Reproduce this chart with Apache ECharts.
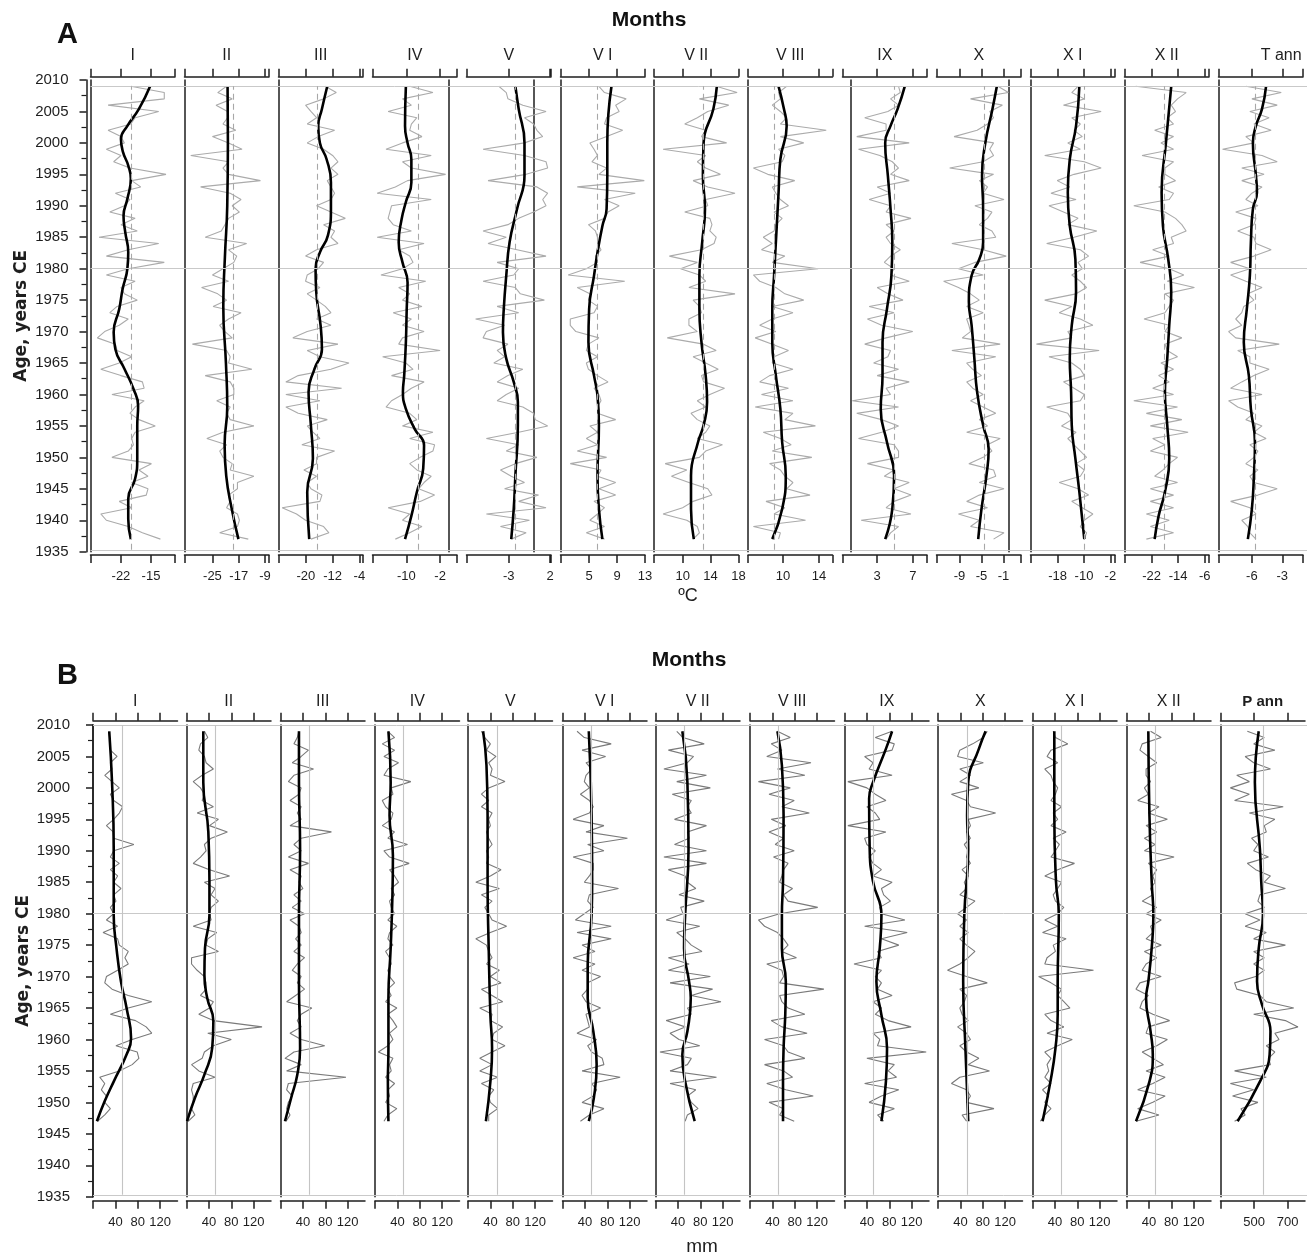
<!DOCTYPE html>
<html>
<head>
<meta charset="utf-8">
<script src="https://cdn.jsdelivr.net/npm/echarts@6/dist/echarts.min.js"></script>
<style>
  html, body { margin: 0; padding: 0; background: #fff; }
  #chart { width: 1307px; height: 1256px; }
</style>
</head>
<body>
<div id="chart"></div>
<script>
// ---- labels ----
const tempLabels = ['I', 'II', 'III', 'IV', 'V', 'V I', 'V II', 'V III', 'IX', 'X', 'X I', 'X II', 'T ann'];
const precLabels = ['I', 'II', 'III', 'IV', 'V', 'V I', 'V II', 'V III', 'IX', 'X', 'X I', 'X II', 'P ann'];

// ---- panel A: temperature (ºC), axis extents, labelled ticks, mean ----
const tRange = [[-29.1, -9.4], [-33.5, -7.8], [-28.2, -2.9], [-18, 2], [-8.1, 2.1], [0.9, 13], [5.9, 18],
  [6.1, 15.5], [-0.9, 8.6], [-13.2, 2.2], [-26.2, -0.6], [-30.2, -4.7], [-9.3, -0.95]];
const tTicks = [[-22, -15], [-25, -17, -9], [-20, -12, -4], [-10, -2], [-3, 2], [5, 9, 13], [10, 14, 18],
  [10, 14], [3, 7], [-9, -5, -1], [-18, -10, -2], [-22, -14, -6], [-6, -3]];
const tMean = [-19.6, -18.7, -16.6, -7.1, -2.2, 6.2, 12.9, 9.0, 4.9, -4.5, -9.9, -18.2, -5.7];

// annual values, 2009 down to 1937
const tI = [
  -19.7, -11.9, -11.9, -25.0, -13.2, -18.7, -19.7, -25.0, -22.0, -21.2,
  -25.4, -22.0, -23.7, -19.9, -11.5, -19.5, -17.4, -23.3, -19.9, -21.2,
  -24.6, -18.7, -22.0, -18.2, -27.1, -13.2, -20.3, -25.4, -11.9, -20.3,
  -25.4, -18.7, -22.0, -21.2, -18.2, -22.9, -24.6, -20.3, -22.4, -25.8,
  -27.5, -23.3, -22.9, -19.5, -22.4, -26.7, -22.0, -17.0, -16.6, -24.1,
  -16.6, -18.7, -19.9, -17.8, -14.0, -18.7, -19.5, -19.1, -20.3, -24.1,
  -14.9, -17.8, -15.7, -19.5, -15.7, -16.1, -22.4, -19.5, -26.7, -25.4,
  -20.3, -17.0, -12.8];
const tII = [
  -20.7, -23.4, -19.0, -23.9, -20.4, -20.4, -21.8, -17.9, -25.0, -20.1,
  -16.0, -31.6, -20.1, -21.8, -20.1, -10.4, -28.6, -19.6, -16.3, -19.0,
  -16.8, -20.1, -21.2, -22.3, -27.2, -14.6, -20.1, -17.6, -18.5, -21.8,
  -25.0, -20.1, -28.3, -23.4, -20.7, -24.8, -16.3, -20.1, -22.8, -21.2,
  -19.0, -31.1, -20.7, -19.6, -20.1, -13.0, -27.2, -19.6, -18.5, -18.5,
  -23.7, -19.6, -20.7, -19.6, -12.4, -21.8, -26.7, -20.7, -22.8, -21.8,
  -19.0, -19.6, -12.4, -17.4, -17.4, -20.1, -19.6, -20.7, -17.4, -16.8,
  -17.4, -22.8, -14.1];
const tIII = [
  -14.2, -10.9, -14.7, -20.1, -18.5, -16.8, -19.6, -11.4, -16.3, -19.6,
  -14.7, -12.0, -10.4, -12.5, -10.4, -13.6, -12.5, -11.4, -12.5, -16.8,
  -12.5, -8.2, -14.7, -11.4, -12.5, -10.4, -16.8, -20.1, -14.7, -16.3,
  -19.6, -20.1, -15.8, -19.6, -16.8, -14.2, -12.5, -16.8, -12.5, -19.6,
  -23.9, -10.4, -19.6, -15.8, -7.1, -12.5, -22.3, -26.0, -9.3, -26.0,
  -15.8, -26.0, -22.3, -13.6, -19.6, -17.9, -15.8, -21.2, -11.4, -16.8,
  -16.8, -20.6, -16.8, -19.6, -18.5, -15.2, -15.8, -27.1, -22.8, -20.1,
  -14.7, -13.1, -18.5];
const tIV = [
  -9.2, -3.7, -10.9, -8.8, -14.3, -7.5, -8.8, -9.2, -6.3, -10.9,
  -14.8, -4.1, -10.9, -8.8, -0.7, -9.7, -12.6, -16.9, -4.1, -13.5,
  -13.9, -14.3, -13.1, -8.8, -16.9, -5.8, -11.8, -9.2, -8.4, -10.9,
  -16.0, -5.4, -11.8, -9.2, -10.9, -6.3, -13.1, -8.8, -10.9, -5.8,
  -10.9, -11.8, -2.0, -15.6, -10.1, -8.4, -13.5, -5.8, -8.8, -10.9,
  -13.5, -14.8, -9.2, -7.5, -10.9, -3.7, -9.2, -3.3, -3.7, -6.7,
  -9.2, -7.5, -4.1, -5.8, -7.1, -3.3, -6.7, -14.3, -9.2, -10.9,
  -6.3, -9.2, -12.6];
const tV = [
  -4.2, -3.3, -3.1, -1.3, 1.5, -1.1, 0.0, 0.4, 1.1, -1.1,
  -6.1, -1.1, 1.5, 1.7, -0.9, -5.5, 0.4, 1.7, 1.1, 1.5,
  0.0, -1.8, -3.1, -6.1, -3.3, -5.5, -2.0, 1.5, -4.4, -1.8,
  -2.4, -6.1, -2.2, -1.6, 1.3, -4.4, -1.8, -7.0, -3.5, -5.7,
  -6.1, -3.1, -4.4, -3.5, -4.8, -1.3, -3.1, -4.4, -1.8, -3.3,
  -4.4, -1.3, 0.0, 0.2, 1.7, -1.8, -5.7, -1.8, -3.3, 0.4,
  -2.2, -4.0, -2.7, -1.1, -3.5, 0.6, -1.8, 1.5, -5.7, -0.5,
  -4.0, -0.9, -2.7];
const tVI = [
  6.4, 7.2, 10.3, 8.8, 9.3, 7.5, 7.2, 9.8, 7.5, 5.1,
  5.7, 6.2, 5.4, 7.5, 6.4, 12.9, 3.3, 11.6, 7.2, 9.3,
  7.7, 7.2, 4.9, 5.9, 6.2, 6.2, 6.7, 5.9, 6.2, 4.6,
  2.0, 10.1, 3.3, 5.1, 4.9, 6.2, 5.7, 2.3, 2.3, 3.1,
  6.4, 4.9, 4.6, 6.2, 4.6, 4.9, 6.2, 7.7, 5.7, 6.4,
  6.7, 6.2, 6.2, 8.8, 5.1, 6.2, 4.6, 6.2, 3.3, 7.5,
  2.3, 6.7, 6.2, 8.8, 6.4, 8.8, 5.7, 7.2, 6.2, 5.1,
  7.2, 4.6, 7.2];
const tVII = [
  14.8, 17.8, 12.4, 16.6, 13.6, 12.1, 10.3, 13.3, 12.7, 16.3,
  7.2, 13.3, 12.1, 13.3, 15.4, 11.5, 13.6, 17.5, 13.3, 13.6,
  10.3, 13.9, 14.2, 13.9, 14.8, 14.5, 12.7, 8.1, 12.1, 9.7,
  12.4, 13.3, 10.9, 17.5, 11.5, 12.4, 12.7, 10.9, 10.9, 12.1,
  7.8, 13.0, 14.8, 11.5, 13.3, 15.1, 12.7, 13.0, 16.0, 13.9,
  12.1, 13.3, 11.2, 12.1, 13.9, 13.3, 12.1, 15.7, 13.3, 12.4,
  7.5, 10.6, 8.4, 10.9, 13.6, 14.2, 11.5, 10.0, 7.2, 10.6,
  12.1, 12.4, 11.5];
const tVIII = [
  10.4, 9.5, 9.7, 8.8, 9.7, 10.4, 9.7, 14.8, 9.7, 12.3,
  9.5, 10.2, 9.9, 6.7, 8.3, 11.3, 8.8, 9.2, 9.7, 10.6,
  9.0, 9.9, 9.2, 9.0, 7.8, 8.8, 7.6, 10.2, 8.8, 13.9,
  6.7, 7.4, 9.2, 10.2, 12.3, 8.8, 11.1, 8.8, 7.4, 9.2,
  6.9, 8.8, 10.6, 9.0, 8.8, 11.1, 8.5, 7.4, 10.6, 7.6,
  11.1, 6.9, 11.1, 10.2, 13.6, 7.8, 9.7, 10.9, 8.8, 13.2,
  8.5, 9.7, 10.2, 11.1, 10.4, 13.0, 8.1, 10.2, 9.0, 12.5,
  6.7, 9.7, 9.5];
const tIX = [
  5.4, 5.6, 4.5, 5.4, 4.2, 1.6, 4.0, 4.0, 0.7, 6.6,
  0.9, 3.3, 4.7, 5.4, 4.5, 6.6, 3.0, 4.5, 2.1, 4.5,
  4.0, 6.8, 4.0, 4.9, 4.0, 4.5, 5.6, 4.5, 3.8, 4.9,
  4.5, 6.6, 3.0, 4.2, 5.9, 2.1, 4.9, 1.9, 3.5, 7.0,
  4.0, 1.6, 4.5, 4.2, 2.6, 5.4, 3.0, 6.6, 4.0, 4.5,
  0.2, 5.4, 0.7, 3.5, 5.4, 3.5, 0.9, 4.9, 5.4, 5.4,
  1.9, 4.9, 3.8, 6.6, 4.9, 6.8, 4.9, 4.0, 6.8, 1.2,
  5.4, 4.5, 4.0];
const tX = [
  -2.0, -0.1, -7.0, -1.2, -3.5, -2.8, -3.9, -5.8, -10.0, -2.8,
  -3.5, -2.8, -4.7, -10.8, -2.8, -5.4, -3.9, -4.7, -0.9, -6.2,
  -3.1, -3.9, -5.4, -3.1, -2.4, -10.4, -4.7, -0.5, -6.2, -9.2,
  -4.7, -11.9, -9.2, -7.0, -5.4, -7.7, -4.7, -7.7, -7.3, -7.0,
  -8.5, -1.6, -10.4, -2.4, -7.7, -6.6, -5.0, -7.7, -6.6, -4.7,
  -7.0, -4.7, -2.4, -5.4, -3.9, -7.7, -1.6, -3.9, -3.1, -4.7,
  -7.3, -2.8, -2.4, -5.4, -0.9, -5.4, -7.7, -3.9, -9.2, -5.4,
  -7.0, -0.9, -2.8];
const tXI = [
  -11.8, -13.7, -9.9, -16.2, -4.8, -13.7, -11.1, -13.0, -10.5, -14.9,
  -11.1, -21.9, -9.9, -4.8, -13.0, -18.1, -14.3, -20.0, -12.4, -20.6,
  -16.2, -11.8, -14.9, -6.1, -13.0, -21.3, -11.1, -8.6, -11.8, -10.5,
  -13.7, -11.1, -9.2, -12.4, -21.9, -13.7, -17.5, -11.1, -7.3, -14.9,
  -13.7, -24.4, -5.4, -20.6, -13.7, -11.1, -9.9, -16.2, -13.0, -9.9,
  -11.1, -21.3, -14.9, -13.7, -16.8, -12.4, -14.9, -13.0, -11.1, -9.2,
  -12.4, -9.9, -11.1, -17.5, -11.8, -8.6, -13.7, -10.5, -7.3, -9.9,
  -11.1, -9.2, -9.9];
const tXII = [
  -26.8, -11.6, -14.2, -16.1, -14.8, -17.3, -15.4, -21.1, -15.4, -19.2,
  -15.4, -24.9, -15.4, -18.0, -18.0, -14.8, -19.9, -15.4, -16.7, -27.4,
  -18.0, -14.8, -12.9, -11.6, -16.1, -15.4, -21.7, -16.7, -25.5, -16.7,
  -12.3, -17.3, -9.1, -18.0, -15.4, -16.7, -18.0, -24.3, -16.7, -18.0,
  -12.9, -18.0, -17.3, -14.2, -19.2, -15.4, -19.9, -16.7, -21.7, -15.4,
  -27.4, -14.2, -23.6, -12.9, -22.4, -11.0, -21.7, -18.0, -22.4, -14.2,
  -16.7, -18.6, -21.1, -14.2, -22.4, -15.4, -22.4, -15.4, -23.6, -16.7,
  -22.4, -15.4, -23.6];
const tAnn = [
  -6.6, -3.1, -6.0, -3.5, -6.2, -4.3, -5.8, -4.1, -6.6, -5.8,
  -8.9, -5.0, -3.5, -7.0, -4.8, -7.0, -5.0, -6.0, -6.6, -5.4,
  -7.6, -5.6, -5.8, -7.4, -5.8, -5.6, -4.1, -5.8, -8.1, -6.2,
  -8.1, -6.6, -5.0, -6.4, -5.8, -6.8, -7.0, -7.6, -7.0, -8.3,
  -7.6, -3.3, -7.4, -6.2, -6.2, -4.3, -5.8, -7.0, -8.1, -5.0,
  -8.3, -7.4, -5.8, -6.6, -5.0, -5.8, -4.6, -6.2, -5.4, -5.8,
  -6.6, -5.4, -6.2, -5.8, -3.5, -5.4, -8.1, -6.2, -5.6, -7.0,
  -6.4, -6.2, -5.6];

// smoothed curves, [year, value]
const tSmI = [[2009, -15.2], [2005.4, -17.8], [2002.7, -20.5], [2000.6, -22.0], [1998.5, -21.5], [1996.4, -20.3],
  [1994.3, -19.7], [1991.1, -20.5], [1988.4, -21.4], [1985.8, -21.0], [1982.6, -20.3], [1980, -20.5], [1976.8, -21.6],
  [1973.6, -22.4], [1969.9, -23.7], [1967.2, -23.3], [1964.1, -21.2], [1960.9, -19.1], [1958.2, -18.0], [1955, -18.2],
  [1949.8, -18.2], [1946.6, -18.7], [1943.4, -20.3], [1940.2, -20.3], [1937, -19.7]];
const tSmII = [[2009, -20.4], [2000, -20.3], [1990, -20.5], [1982, -21.2], [1974, -21.7], [1965, -20.9], [1958, -20.5],
  [1952, -21.3], [1947, -20.8], [1942, -19.2], [1937, -17.1]];
const tSmIII = [[2009, -13.6], [2005.4, -15.2], [2002.7, -16.3], [2000, -15.8], [1997.4, -13.8], [1993.7, -12.5],
  [1989.5, -12.5], [1985.3, -13.4], [1982.6, -15.8], [1980, -17.1], [1976.3, -16.9], [1971, -15.6], [1967.2, -15.2],
  [1964.1, -17.4], [1960.4, -19.2], [1955.1, -18.5], [1949.8, -17.9], [1944.5, -19.6], [1937, -19.0]];
const tSmIV = [[2009, -10.1], [2002.7, -10.3], [2000, -9.7], [1997.4, -8.8], [1993.7, -8.8], [1990.6, -10.1],
  [1987.9, -11.1], [1984.2, -11.8], [1981, -10.9], [1977.8, -9.7], [1973.6, -9.9], [1968.3, -10.1], [1963, -10.5],
  [1960.4, -10.8], [1957.7, -10.1], [1954.5, -8.0], [1951.9, -5.8], [1948.2, -6.0], [1944.5, -7.5], [1940.7, -8.8],
  [1937, -10.3]];
const tSmV = [[2009, -2.2], [2005.4, -1.8], [2000, -1.1], [1994.8, -1.1], [1989.5, -2.0], [1984.2, -2.9],
  [1978.9, -3.3], [1973.6, -3.6], [1969.9, -3.7], [1965.7, -3.3], [1962, -2.4], [1958.8, -1.9], [1955.1, -1.9],
  [1947.1, -2.2], [1941.8, -2.4], [1937, -2.7]];
const tSmVI = [[2009, 8.2], [2000, 7.6], [1994.8, 7.6], [1989.5, 7.5], [1986.8, 6.9], [1982.6, 6.2], [1978.9, 5.7],
  [1973.6, 5.0], [1968.3, 4.9], [1963, 5.7], [1959.8, 6.2], [1955.1, 6.4], [1947.1, 6.2], [1941.8, 6.4], [1937, 6.9]];
const tSmVII = [[2009, 14.9], [2005.4, 14.4], [2000, 13.0], [1994.8, 12.9], [1989.5, 13.2], [1984.2, 12.8],
  [1978.9, 12.4], [1973.6, 12.4], [1968.3, 12.7], [1963, 13.3], [1958.8, 13.5], [1955.1, 13.0], [1952.4, 12.2],
  [1947.1, 11.2], [1941.8, 11.2], [1937, 11.6]];
const tSmVIII = [[2009, 9.5], [2005.4, 10.1], [2002.7, 10.4], [1997.4, 9.7], [1992.1, 9.5], [1986.8, 9.3],
  [1978.9, 9.0], [1973.6, 8.8], [1968.3, 8.8], [1963, 9.2], [1957.7, 9.7], [1952.4, 9.9], [1947.1, 10.3],
  [1941.8, 9.9], [1937, 8.8]];
const tSmIX = [[2009, 6.1], [2005.4, 5.3], [2002.7, 4.5], [2000, 3.9], [1994.8, 4.2], [1989.5, 4.5], [1984.2, 4.7],
  [1978.9, 4.6], [1973.6, 4.1], [1968.3, 3.6], [1963, 3.6], [1957.7, 3.4], [1952.4, 4.1], [1947.1, 4.9],
  [1941.8, 4.7], [1937, 3.9]];
const tSmX = [[2009, -2.2], [2005.4, -3.0], [2000, -4.3], [1994.8, -4.9], [1989.5, -4.7], [1984.2, -4.7],
  [1981.5, -5.4], [1978.9, -6.8], [1974.7, -7.3], [1971, -6.8], [1965.7, -6.3], [1960.4, -5.8], [1955.1, -4.7],
  [1951.3, -3.7], [1947.1, -4.1], [1941.8, -5.0], [1937, -5.6]];
const tSmXI = [[2009, -11.4], [2002.7, -12.4], [1997.4, -14.3], [1992.1, -14.9], [1986.8, -14.3], [1981.5, -12.6],
  [1976.3, -12.4], [1971, -13.7], [1965.7, -14.3], [1960.4, -13.9], [1955.1, -13.7], [1949.8, -12.6],
  [1944.5, -11.4], [1937, -9.9]];
const tSmXII = [[2009, -16.1], [2000, -17.7], [1992.1, -19.0], [1986.8, -18.6], [1981.5, -17.0], [1976.3, -16.1],
  [1971, -16.7], [1965.7, -17.3], [1960.4, -18.0], [1955.1, -17.3], [1949.8, -16.7], [1944.5, -18.0],
  [1940.7, -19.9], [1937, -21.1]];
const tSmAnn = [[2009, -4.6], [2005.4, -5.0], [2002.7, -5.6], [2000, -5.9], [1994.8, -5.6], [1992.1, -5.5],
  [1989.5, -5.9], [1984.2, -6.1], [1978.9, -6.2], [1973.6, -6.5], [1968.3, -6.8], [1963, -6.3], [1957.7, -6.1],
  [1952.4, -5.7], [1947.1, -5.8], [1941.8, -6.0], [1937, -6.4]];

// ---- panel B: precipitation (mm) ----
const pRange = [[0, 151], [0, 151], [0, 151], [0, 151], [0, 151], [0, 151], [0, 151], [0, 151], [0, 151],
  [0, 151], [0, 151], [0, 151], [300, 804]];
const pTickMarks = [[0, 40, 80, 120], [0, 40, 80, 120], [0, 40, 80, 120], [0, 40, 80, 120], [0, 40, 80, 120],
  [0, 40, 80, 120], [0, 40, 80, 120], [0, 40, 80, 120], [0, 40, 80, 120], [0, 40, 80, 120], [0, 40, 80, 120],
  [0, 40, 80, 120], [300, 500, 700]];
const pTicks = [[40, 80, 120], [40, 80, 120], [40, 80, 120], [40, 80, 120], [40, 80, 120], [40, 80, 120],
  [40, 80, 120], [40, 80, 120], [40, 80, 120], [40, 80, 120], [40, 80, 120], [40, 80, 120], [500, 700]];
const pMean = [51.5, 51, 51, 51, 51.5, 51, 51.3, 51.3, 51.3, 52, 52, 50.6, 553];

// annual values, 2009 down to 1947
const pI = [
  28, 30, 31, 31, 43, 31, 34, 21, 34, 47,
  31, 37, 53, 47, 37, 24, 36, 37, 73, 37,
  31, 47, 31, 44, 37, 50, 37, 41, 31, 37,
  24, 44, 18, 44, 47, 63, 57, 63, 44, 24,
  21, 34, 63, 105, 63, 31, 76, 95, 105, 70,
  41, 79, 82, 70, 47, 12, 21, 15, 24, 21,
  31, 21, 8];
const pII = [
  32, 38, 25, 22, 32, 35, 48, 28, 12, 25,
  32, 28, 48, 19, 57, 41, 73, 44, 32, 35,
  25, 12, 41, 77, 32, 51, 44, 57, 44, 41,
  44, 12, 54, 38, 35, 57, 9, 9, 19, 32,
  35, 35, 25, 48, 41, 22, 48, 135, 38, 80,
  48, 32, 28, 9, 22, 51, 12, 9, 12, 12,
  9, 15, 3];
const pIII = [
  33, 30, 24, 50, 37, 21, 59, 24, 14, 37,
  33, 17, 37, 30, 37, 17, 91, 37, 24, 37,
  14, 50, 17, 37, 33, 40, 24, 37, 21, 43,
  17, 33, 37, 27, 37, 24, 43, 30, 21, 37,
  30, 43, 27, 11, 56, 37, 30, 37, 17, 37,
  79, 24, 8, 37, 11, 117, 14, 11, 21, 14,
  11, 17, 10];
const pIV = [
  23, 35, 13, 35, 16, 42, 23, 16, 64, 29,
  32, 13, 19, 32, 29, 13, 35, 23, 58, 16,
  26, 61, 26, 35, 42, 29, 35, 26, 29, 35,
  23, 39, 26, 23, 32, 19, 26, 29, 23, 26,
  35, 23, 29, 19, 39, 23, 32, 39, 26, 32,
  23, 6, 32, 26, 29, 19, 35, 23, 26, 19,
  39, 23, 16];
const pV = [
  24, 30, 40, 33, 50, 37, 43, 40, 66, 37,
  24, 37, 24, 43, 37, 40, 33, 37, 43, 33,
  37, 33, 59, 40, 14, 56, 24, 43, 30, 37,
  43, 69, 40, 14, 33, 37, 43, 33, 56, 40,
  59, 24, 43, 62, 21, 43, 40, 62, 46, 43,
  66, 43, 21, 43, 21, 53, 24, 46, 37, 40,
  53, 37, 37];
const pVI = [
  26, 39, 87, 35, 77, 42, 52, 42, 39, 48,
  32, 48, 55, 48, 19, 74, 42, 116, 45, 74,
  19, 55, 55, 48, 39, 100, 48, 45, 55, 39,
  23, 87, 26, 87, 35, 58, 19, 58, 35, 68,
  45, 45, 35, 42, 68, 42, 45, 48, 26, 61,
  45, 52, 71, 74, 35, 103, 52, 61, 55, 35,
  74, 48, 32];
const pVII = [
  38, 49, 87, 23, 68, 57, 15, 91, 38, 98,
  30, 64, 57, 64, 34, 91, 57, 60, 34, 91,
  15, 91, 23, 53, 57, 72, 42, 87, 45, 49,
  19, 79, 38, 53, 64, 83, 23, 60, 23, 98,
  26, 102, 64, 117, 57, 64, 19, 53, 26, 42,
  79, 8, 64, 57, 26, 109, 26, 72, 57, 64,
  76, 57, 53];
const pVIII = [
  49, 72, 38, 57, 30, 109, 49, 98, 15, 72,
  34, 79, 57, 106, 38, 64, 34, 60, 45, 79,
  42, 68, 60, 57, 53, 76, 60, 68, 121, 53,
  15, 26, 49, 60, 68, 57, 83, 30, 57, 60,
  53, 132, 53, 57, 68, 98, 38, 57, 102, 26,
  60, 68, 98, 26, 60, 76, 30, 64, 113, 34,
  60, 53, 79];
const pIX = [
  85, 55, 89, 85, 36, 51, 44, 85, 6, 40,
  55, 74, 40, 55, 63, 6, 74, 36, 40, 55,
  44, 51, 66, 51, 85, 66, 70, 82, 63, 66,
  108, 36, 112, 66, 97, 59, 66, 17, 66, 55,
  66, 59, 85, 51, 66, 55, 78, 119, 51, 63,
  59, 146, 40, 89, 78, 93, 36, 97, 66, 44,
  89, 59, 70];
const pX = [
  88, 81, 62, 39, 35, 81, 39, 58, 39, 73,
  24, 51, 58, 103, 54, 58, 51, 58, 47, 54,
  51, 58, 43, 54, 47, 51, 39, 66, 51, 35,
  51, 39, 54, 39, 51, 66, 54, 39, 17, 51,
  88, 39, 51, 47, 39, 43, 54, 35, 51, 58,
  39, 51, 73, 54, 92, 39, 24, 51, 58, 51,
  100, 43, 51];
const pXI = [
  37, 41, 63, 33, 26, 45, 22, 33, 37, 45,
  41, 33, 52, 37, 45, 33, 60, 37, 48, 41,
  33, 75, 45, 22, 52, 45, 37, 41, 56, 45,
  22, 45, 18, 60, 37, 41, 26, 22, 109, 11,
  33, 52, 45, 56, 67, 22, 33, 56, 26, 71,
  45, 22, 33, 26, 29, 22, 33, 18, 29, 22,
  33, 22, 14];
const pXII = [
  43, 62, 28, 24, 39, 54, 35, 35, 43, 32,
  39, 20, 58, 39, 73, 35, 54, 32, 51, 32,
  85, 39, 54, 47, 51, 43, 47, 28, 54, 35,
  62, 43, 47, 35, 62, 32, 54, 35, 28, 62,
  24, 17, 39, 28, 24, 47, 77, 39, 35, 73,
  54, 28, 47, 66, 35, 69, 47, 20, 69, 47,
  20, 58, 17];
const pAnn = [
  460, 561, 498, 624, 447, 498, 598, 397, 472, 359,
  472, 384, 674, 472, 624, 561, 573, 485, 523, 498,
  586, 460, 510, 598, 561, 687, 535, 523, 561, 447,
  535, 447, 573, 498, 687, 498, 561, 498, 561, 510,
  384, 397, 535, 573, 737, 498, 687, 762, 624, 649,
  573, 624, 586, 598, 384, 573, 359, 498, 372, 523,
  422, 447, 384];

const pSmI = [[2009, 29], [2000.9, 34], [1990.3, 37], [1979.8, 37], [1974.5, 42], [1969.2, 50], [1965, 60],
  [1960.2, 68], [1957.6, 60], [1953.3, 37], [1950.2, 21], [1947, 7]];
const pSmII = [[2009, 30], [2000.9, 30], [1993, 39], [1985.1, 41], [1979.8, 41], [1974.5, 33], [1970.3, 32],
  [1966.6, 37], [1962.9, 48], [1958.7, 46], [1954.4, 32], [1950.7, 15], [1947, 1]];
const pSmIII = [[2009, 33], [2000.9, 33], [1990.3, 35], [1979.8, 33], [1969.2, 33], [1958.6, 35], [1954.4, 30],
  [1950.7, 19], [1947, 8]];
const pSmIV = [[2009, 24], [2000.9, 28], [1995.6, 26], [1989.3, 32], [1982.4, 31], [1974.5, 28], [1966.6, 24],
  [1958.6, 24], [1953.3, 23], [1947, 24]];
const pSmV = [[2009, 27], [2003.6, 33], [1995.6, 35], [1985.1, 35], [1974.5, 37], [1963.9, 40], [1958.6, 43],
  [1953.3, 40], [1947, 32]];
const pSmVI = [[2009, 47], [1995.6, 52], [1985.1, 53], [1979.8, 52], [1971.8, 45], [1966.6, 45], [1961.3, 55],
  [1956, 61], [1950.7, 56], [1947, 47]];
const pSmVII = [[2009, 48], [2000.9, 57], [1990.3, 59], [1979.8, 53], [1974.5, 51], [1969.2, 60], [1966.6, 63],
  [1961.3, 57], [1957.6, 48], [1953.3, 53], [1947, 70]];
const pSmVIII = [[2009, 49], [2003.6, 57], [1995.6, 60], [1985.1, 59], [1979.8, 57], [1974.5, 57], [1969.2, 64],
  [1963.9, 63], [1958.6, 60], [1953.3, 59], [1947, 59]];
const pSmIX = [[2009, 85], [2006.2, 74], [2000.9, 51], [1998.3, 44], [1990.3, 45], [1985.1, 51], [1979.8, 66],
  [1974.5, 63], [1969.2, 57], [1963.9, 66], [1958.6, 76], [1953.3, 74], [1947, 66]];
const pSmX = [[2009, 85], [2006.2, 73], [2000.9, 54], [1995.6, 52], [1990.3, 54], [1979.8, 47], [1969.2, 45],
  [1958.6, 49], [1947, 54]];
const pSmXI = [[2009, 39], [1995.6, 39], [1985.1, 42], [1979.8, 47], [1969.2, 45], [1963.9, 45], [1958.6, 41],
  [1953.3, 32], [1947, 18]];
const pSmXII = [[2009, 39], [1995.6, 41], [1985.1, 45], [1979.8, 48], [1974.5, 45], [1969.2, 39], [1966.6, 35],
  [1961.3, 43], [1957.6, 47], [1953.3, 41], [1947, 17]];
const pSmAnn = [[2009, 528], [2000.9, 505], [1990.3, 535], [1985.1, 543], [1979.8, 553], [1974.5, 528],
  [1969.2, 518], [1965.5, 548], [1961.3, 598], [1957.6, 593], [1953.3, 535], [1947, 402]];

// ---- layout / styles ----
const NARROW = "'Liberation Sans Narrow', 'Arial Narrow', 'Liberation Sans', Arial, sans-serif";
const SANS = "'Liberation Sans', Arial, Helvetica, sans-serif";
const INK = '#1e1e1e';

const panels = [
  {
    labels: tempLabels, ranges: tRange, labelVals: tTicks, tickVals: tRange.map((r, i) => [r[0], ...tTicks[i], r[1]]),
    mean: tMean, annual: [tI, tII, tIII, tIV, tV, tVI, tVII, tVIII, tIX, tX, tXI, tXII, tAnn],
    smooth: [tSmI, tSmII, tSmIII, tSmIV, tSmV, tSmVI, tSmVII, tSmVIII, tSmIX, tSmX, tSmXI, tSmXII, tSmAnn],
    lefts: [90.5, 184.5, 278.5, 372.5, 466.5, 560.5, 654, 748, 842.5, 936.5, 1030.5, 1124.5, 1218.5],
    top: 80, height: 471.7, topOff: 3.3, botOff: 3.3, nameGap: 13, yOff: 4,
    grey: '#ababab', meanColor: '#a8a8a8', meanType: [6, 4], meanTop: 2009, hLines: [2009, 1980, 1935.3],
    lastStyle: { align: 'left' }
  },
  {
    labels: precLabels, ranges: pRange, labelVals: pTicks, tickVals: pTickMarks,
    mean: pMean, annual: [pI, pII, pIII, pIV, pV, pVI, pVII, pVIII, pIX, pX, pXI, pXII, pAnn],
    smooth: [pSmI, pSmII, pSmIII, pSmIV, pSmV, pSmVI, pSmVII, pSmVIII, pSmIX, pSmX, pSmXI, pSmXII, pSmAnn],
    lefts: [93, 186.5, 280.5, 375, 468, 562.5, 655.5, 750, 844.5, 938, 1032.5, 1126.5, 1220.5],
    top: 725, height: 471.7, topOff: 4.3, botOff: 4, nameGap: 11, yOff: 5,
    grey: '#7a7a7a', meanColor: '#c4c4c4', meanType: 'solid', meanTop: 2010, hLines: [2010, 1980, 1935.3],
    lastStyle: { fontWeight: 'bold', fontFamily: SANS, fontSize: 15 }
  }
];

const grid = [], xAxis = [], yAxis = [], series = [];
const colW = 84.5;

panels.forEach(p => {
  // full-width overlay for the horizontal reference lines
  const og = grid.length;
  grid.push({ left: p.lefts[0], right: 0, top: p.top, height: p.height });
  xAxis.push({ type: 'value', gridIndex: og, min: 0, max: 1, show: false });
  yAxis.push({ type: 'value', gridIndex: og, min: 1935, max: 2010, show: false });
  series.push({
    type: 'line', xAxisIndex: xAxis.length - 1, yAxisIndex: yAxis.length - 1, data: [[0, 1935]],
    symbol: 'none', lineStyle: { opacity: 0 }, silent: true, z: 1,
    markLine: {
      silent: true, symbol: ['none', 'none'], label: { show: false },
      lineStyle: { color: '#c9c9c9', width: 1, type: 'solid' },
      data: p.hLines.map(v => ({ yAxis: v }))
    }
  });

  p.labels.forEach((lab, c) => {
    const g = grid.length;
    grid.push({ left: p.lefts[c], width: colW, top: p.top, height: p.height });
    const [mn, mx] = p.ranges[c];
    const line = { show: true, lineStyle: { color: INK, width: 1.5 } };
    const tick = { show: true, length: 8, customValues: p.tickVals[c], lineStyle: { color: INK, width: 1.5 } };
    const nameStyle = Object.assign({ fontFamily: NARROW, fontSize: 16, color: INK },
      c === 12 ? p.lastStyle : {});
    xAxis.push({
      type: 'value', gridIndex: g, position: 'top', offset: p.topOff, min: mn, max: mx,
      axisLine: line, axisTick: tick, axisLabel: { show: false }, splitLine: { show: false },
      name: lab, nameLocation: 'middle', nameGap: p.nameGap, nameTextStyle: nameStyle
    });
    const bx = xAxis.length;
    xAxis.push({
      type: 'value', gridIndex: g, position: 'bottom', offset: p.botOff, min: mn, max: mx,
      axisLine: line, axisTick: tick, splitLine: { show: false },
      axisLabel: { show: true, customValues: p.labelVals[c], margin: 15, fontSize: 13, fontFamily: NARROW, color: INK }
    });
    const yi = yAxis.length;
    yAxis.push({
      type: 'value', gridIndex: g, min: 1935, max: 2010,
      axisLine: { show: true, lineStyle: { color: INK, width: 1.5 } },
      axisTick: { show: false }, axisLabel: { show: false }, splitLine: { show: false }
    });
    if (c === 0) {
      yAxis.push({
        type: 'value', gridIndex: g, position: 'left', offset: p.yOff, min: 1935, max: 2010, interval: 5,
        axisLine: { show: true, lineStyle: { color: INK, width: 1.5 } },
        axisTick: { show: true, length: 7, lineStyle: { color: INK, width: 1.5 } },
        minorTick: { show: true, splitNumber: 2, length: 5, lineStyle: { color: INK, width: 1.2 } },
        axisLabel: { margin: 18, fontSize: 15, fontFamily: NARROW, color: INK, formatter: v => String(v) },
        splitLine: { show: false },
        name: 'Age, years CE', nameLocation: 'middle', nameRotate: 90, nameGap: 56, nameMoveOverlap: false,
        nameTextStyle: { fontFamily: "'DejaVu Sans', sans-serif", fontWeight: 'bold', fontSize: 17, color: INK }
      });
    }
    series.push({
      type: 'line', xAxisIndex: bx, yAxisIndex: yi,
      data: p.annual[c].map((v, i) => [v, 2009 - i]),
      symbol: 'none', silent: true, z: 2,
      lineStyle: { color: p.grey, width: 1.1 },
      markLine: {
        silent: true, symbol: ['none', 'none'], label: { show: false },
        lineStyle: { color: p.meanColor, width: 1.1, type: p.meanType },
        data: [[{ coord: [p.mean[c], 1935.3] }, { coord: [p.mean[c], p.meanTop] }]]
      }
    });
    series.push({
      type: 'line', xAxisIndex: bx, yAxisIndex: yi,
      data: p.smooth[c].map(([yr, v]) => [v, yr]),
      symbol: 'none', silent: true, smooth: 0.5, z: 3,
      lineStyle: { color: '#000', width: 2.6 }
    });
  });
});

const titleStyle = { fontFamily: SANS, fontWeight: 'bold', color: '#111' };
const plainStyle = { fontFamily: NARROW, fontWeight: 'normal', color: INK };
const chart = echarts.init(document.getElementById('chart'), null, { renderer: 'canvas' });
chart.setOption({
  animation: false,
  backgroundColor: '#fff',
  title: [
    { text: 'A', left: 57, top: 20, padding: 0, textStyle: Object.assign({ fontSize: 29 }, titleStyle) },
    { text: 'Months', left: 649, top: 10, padding: 0, textAlign: 'center', textStyle: Object.assign({ fontSize: 21 }, titleStyle) },
    { text: 'ºC', left: 688, top: 587, padding: 0, textAlign: 'center', textStyle: Object.assign({ fontSize: 18 }, plainStyle) },
    { text: 'B', left: 57, top: 661, padding: 0, textStyle: Object.assign({ fontSize: 29 }, titleStyle) },
    { text: 'Months', left: 689, top: 650, padding: 0, textAlign: 'center', textStyle: Object.assign({ fontSize: 21 }, titleStyle) },
    { text: 'mm', left: 702, top: 1237, padding: 0, textAlign: 'center', textStyle: Object.assign({ fontSize: 19 }, plainStyle) }
  ],
  grid, xAxis, yAxis, series
});
window.addEventListener('resize', () => chart.resize());
</script>
</body>
</html>
